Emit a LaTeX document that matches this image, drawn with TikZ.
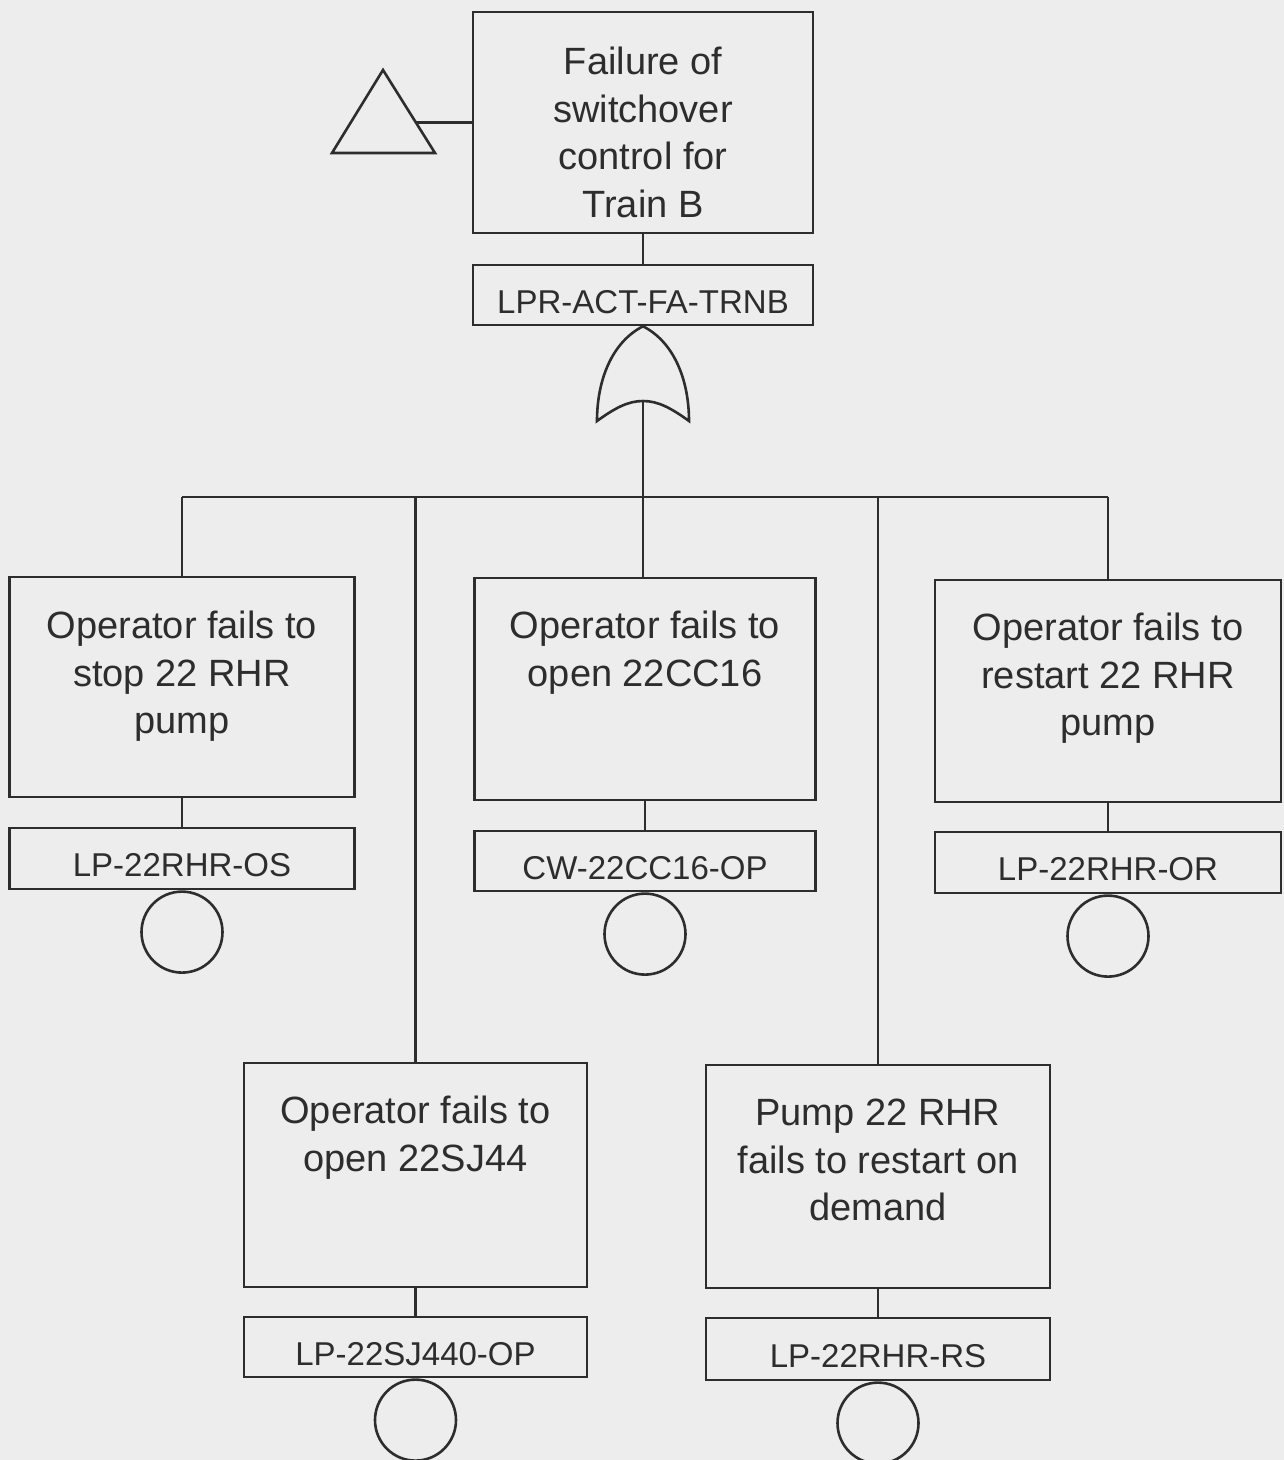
\documentclass[tikz,border=0pt]{standalone}
\usepackage{fontspec}
\setmainfont{Liberation Sans}
\definecolor{bg}{RGB}{237,237,237}
\definecolor{ink}{RGB}{45,45,45}
\begin{document}
\begin{tikzpicture}[x=1pt,y=-1pt,line width=2.6pt,
  evbox/.style={draw=ink,inner sep=0pt},
  lblbox/.style={draw=ink,inner sep=0pt,text=ink,font=\fontsize{33}{40}\selectfont,text height=36pt,text depth=0pt},
  btxt/.style={anchor=north,inner sep=0pt,align=center,text=ink,font=\fontsize{38}{47.5}\selectfont},
  basic/.style={draw=ink,circle,inner sep=0pt,minimum size=81pt,anchor=north},
  wire/.style={draw=ink}]
\fill[bg] (0,0) rectangle (1284,1460);
\useasboundingbox (0,0) rectangle (1284,1460);

% top event
\node[evbox,minimum width=340pt,minimum height=221pt] (top) at (643,122.5) {};
\node[btxt] (ttop) at (643,46) {Failure of\\switchover\\control for\\Train B};
\node[lblbox,minimum width=340pt,minimum height=60pt] (toplbl) at (643,295) {LPR-ACT-FA-TRNB};
\draw[wire] (top.south) -- (toplbl.south |- top.south) -- (toplbl.north);

% transfer triangle
\coordinate (ta) at (383,70);
\coordinate (tr) at (435,153);
\coordinate (tl) at (332,153);
\draw[wire,line join=miter] (ta) -- (tr) -- (tl) -- cycle;
\coordinate (tc) at (416,122.5);
\draw[wire] (tc) -- (top.west);

% OR gate
\coordinate (gtop) at (toplbl.south);
\coordinate (gin) at (643,401);
\draw[wire,fill=bg] (gtop) .. controls (612,342) and (597,380) .. (597,421)
  .. controls (615,408) and (628,401) .. (gin)
  .. controls (658,401) and (671,408) .. (689,421)
  .. controls (689,380) and (674,342) .. (gtop) -- cycle;

% second level boxes
\node[evbox,minimum width=345pt,minimum height=220pt] (L) at (182,687) {};
\node[btxt] (tL) at (182,610) {Operator fails to\\stop 22 RHR\\pump};
\node[lblbox,minimum width=345pt,minimum height=61pt] (Llbl) at (182,858.5) {LP-22RHR-OS};
\node[basic] (cL) at (Llbl.south) {};

\node[evbox,minimum width=341pt,minimum height=222pt] (M) at (645,689) {};
\node[btxt] (tM) at (645,610) {Operator fails to\\open 22CC16};
\node[lblbox,minimum width=341pt,minimum height=60pt] (Mlbl) at (645,861) {CW-22CC16-OP};
\node[basic] (cM) at (Mlbl.south) {};

\node[evbox,minimum width=346pt,minimum height=222pt] (R) at (1108,691) {};
\node[btxt] (tR) at (1108,612) {Operator fails to\\restart 22 RHR\\pump};
\node[lblbox,minimum width=346pt,minimum height=61pt] (Rlbl) at (1108,862.5) {LP-22RHR-OR};
\node[basic] (cR) at (Rlbl.south) {};

\node[evbox,minimum width=343pt,minimum height=224pt] (BL) at (415.5,1175) {};
\node[btxt] (tBL) at (415.5,1095) {Operator fails to\\open 22SJ44};
\node[lblbox,minimum width=343pt,minimum height=60pt] (BLlbl) at (415.5,1347) {LP-22SJ440-OP};
\node[basic] (cBL) at (BLlbl.south) {};

\node[evbox,minimum width=344pt,minimum height=223pt] (BR) at (878,1176.5) {};
\node[btxt] (tBR) at (878,1098) {Pump 22 RHR\\fails to restart on\\demand};
\node[lblbox,minimum width=344pt,minimum height=62pt] (BRlbl) at (878,1349) {LP-22RHR-RS};
\node[basic] (cBR) at (BRlbl.south) {};

% box to label connectors
\foreach \b in {L,M,R,BL,BR}{\draw[wire] (\b.south) -- (\b lbl.north);}

% branching
\coordinate (bL) at (L.north |- 0,497);
\coordinate (bR) at (R.north |- 0,497);
\coordinate (bBL) at (BL.north |- 0,497);
\coordinate (bBR) at (BR.north |- 0,497);
\draw[wire] (bL) -- (bR);
\draw[wire] (bL) -- (L.north);
\draw[wire] (bR) -- (R.north);
\draw[wire] (bBL) -- (BL.north);
\draw[wire] (bBR) -- (BR.north);
\draw[wire] (gin) -- (gin |- M.north);
\end{tikzpicture}
\end{document}
